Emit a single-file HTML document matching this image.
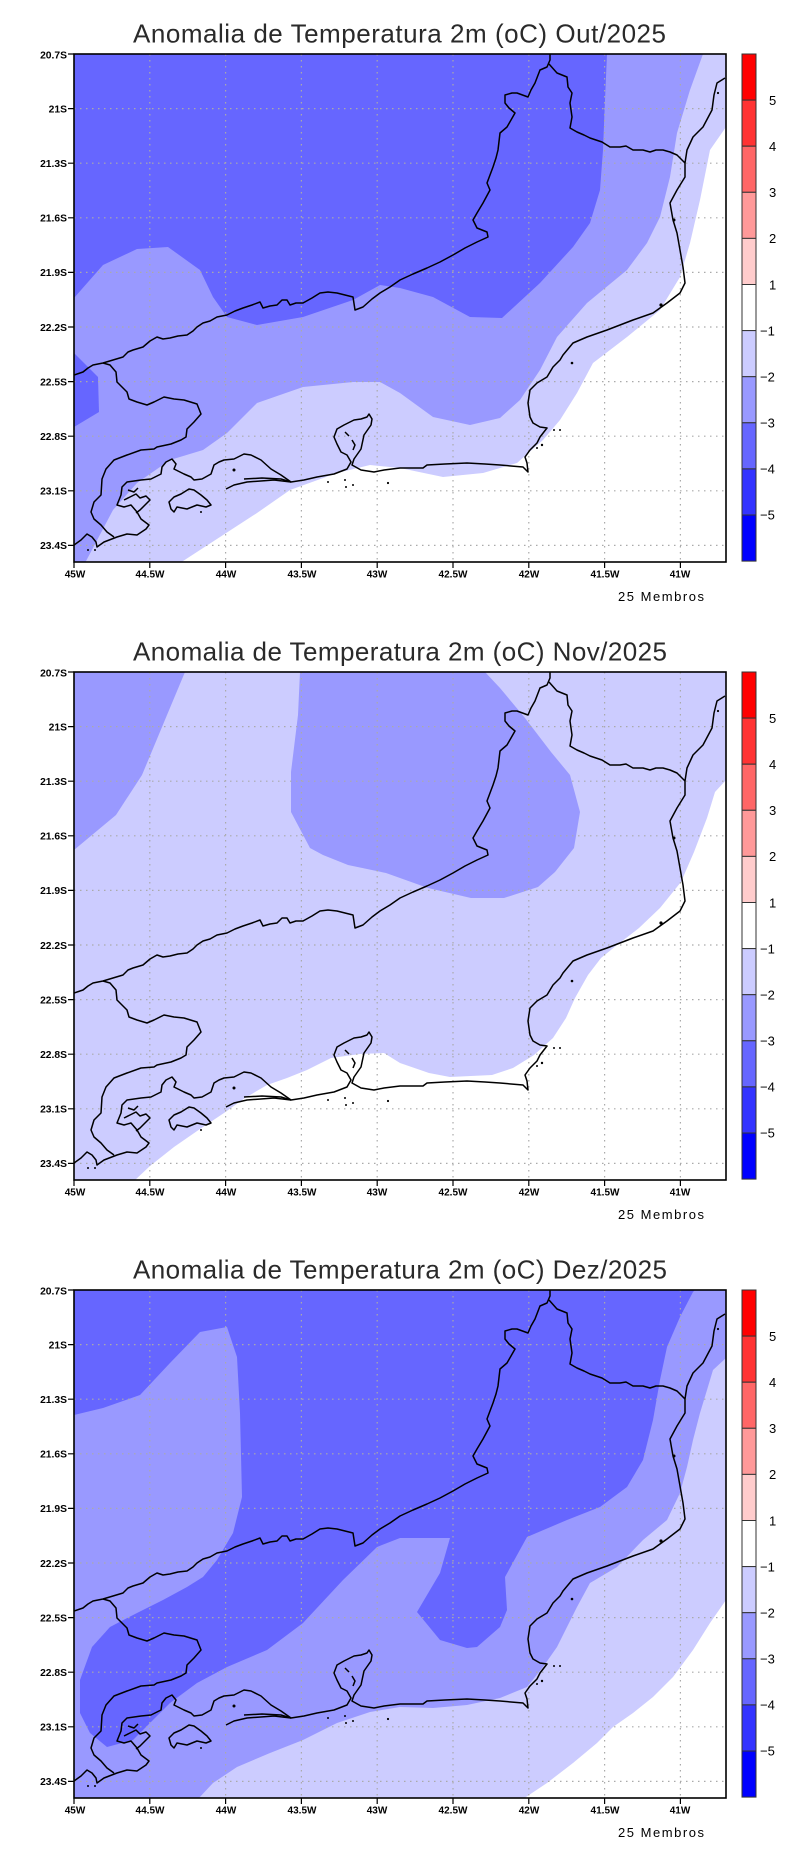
<!DOCTYPE html>
<html>
<head>
<meta charset="utf-8">
<style>
html,body{margin:0;padding:0;background:#fff;}
svg{display:block;}
</style>
</head>
<body>
<svg xmlns="http://www.w3.org/2000/svg" xmlns:xlink="http://www.w3.org/1999/xlink" width="800" height="1854" viewBox="0 0 800 1854">
<defs>
  <clipPath id="mapclip"><rect x="74" y="54" width="652" height="508"/></clipPath>
  <g id="grid" fill="none" stroke="#aaaaaa" stroke-width="1.2" stroke-dasharray="1.5 4.5">
    <path d="M149.8,54V562M225.6,54V562M301.4,54V562M377.2,54V562M453,54V562M528.8,54V562M604.6,54V562M680.4,54V562"/>
    <path d="M74,108.6H726M74,163.2H726M74,217.8H726M74,272.4H726M74,327H726M74,381.6H726M74,436.2H726M74,490.8H726M74,545.4H726"/>
  </g>
  <g id="coast" fill="none" stroke="#000" stroke-width="1.5" stroke-linejoin="round">
    <path d="M74,375 L83,372 L88,368 L93,365 L103,363 L113,360 L123,357 L128,352 L133,350 L143,347 L150,341 L157,337 L163,339 L170,338 L178,336 L187,335 L193,331 L197,327 L203,323 L210,321 L217,317 L227,315 L235,311 L243,308 L252,305 L260,302 L263,308 L270,306 L277,305 L282,300 L287,300 L290,305 L296,303 L303,303 L312,298 L320,293 L328,292 L337,293 L345,295 L353,297 L355,310 L363,307 L372,299 L380,293 L390,287 L400,280 L413,274 L427,268 L440,262 L453,255 L465,248 L477,242 L488,237 L487,232 L477,228 L473,220 L477,213 L483,203 L490,190 L487,183 L493,167 L496,158 L498,150 L500,133 L507,127 L515,113 L509,108 L505,103 L505,95 L512,93 L517,93 L528,97 L531,90 L535,83 L540,70 L547,67 L550,60 L550,54"/>
    <path d="M549,64 L557,73 L567,77 L568,87 L572,93 L570,103 L572,117 L570,128 L577,132 L584,135 L590,138 L602,142 L610,147 L620,147 L626,146 L633,150 L643,150 L650,152 L656,150 L663,150 L670,152 L677,155 L685,163"/>
    <path d="M103,363 L110,365 L116,372 L117,382 L127,392 L129,399 L137,402 L147,405 L154,402 L164,397 L174,399 L184,400 L197,404 L201,414 L194,422 L187,429 L186,437 L181,440 L171,444 L157,447 L154,449 L141,450 L127,455 L114,460 L106,469 L102,479 L101,495 L94,502 L91,512 L94,519 L101,525 L107,532 L114,537"/>
    <path d="M74,545 L81,540 L87,534 L92,537 L96,542 L97,547 L104,542 L117,537 L127,534 L137,535 L146,529 L149,525 L141,519 L137,512 L131,505 L124,507 L117,505 L121,495 L122,487 L127,482 L134,481 L141,480 L151,479 L161,474 L162,467 L166,462 L172,459 L176,464 L174,469 L184,474 L191,477 L194,480 L202,479 L211,474 L214,465 L219,462 L224,460 L234,459 L244,454 L251,455 L261,460 L271,469 L281,475 L291,482 L304,480 L317,477 L334,474 L347,469 L351,462 L347,455 L341,452 L337,444 L334,437 L337,429 L344,425 L354,420 L361,419 L367,417 L369,414 L372,419 L371,425 L364,435 L361,449 L354,459 L352,465 L361,470 L374,472 L384,470 L400,468 L423,468 L427,465 L445,464 L467,463 L485,464 L500,465 L523,467 L528,472 L527,463 L525,457 L530,450 L537,443 L540,437 L547,428 L540,427 L533,423 L530,417 L528,403 L530,390 L537,383 L547,377 L553,367 L560,360 L563,355 L573,343 L587,337 L607,330 L633,320 L653,313 L667,303 L680,293 L685,283 L683,267 L680,250 L677,233 L673,220 L670,203 L677,190 L685,177 L685,163 L687,150 L693,137 L703,127 L712,110 L714,95 L717,83 L725,78"/>
    <path d="M226,489 L234,485 L247,482 L274,480 L291,482"/>
    <path d="M244,479 L262,478 L281,479 L291,482"/>
    <path d="M169,502 L174,497 L181,494 L189,489 L194,490 L201,495 L207,500 L211,505 L206,507 L197,505 L187,509 L177,507 L174,512 L171,509 Z"/>
    <path d="M124,500 L130,497 L136,494 L140,498 L146,496 L150,500 L145,505 L140,510 L136,513"/>
    <path d="M128,490 L134,492 L138,488"/>
    <path d="M352,440 L355,445 L353,450"/>
    <path d="M345,432 L349,436"/>
  </g>
  <g id="dots" fill="#000">
    <circle cx="572" cy="363" r="1.3"/>
    <circle cx="554" cy="430" r="1"/>
    <circle cx="560" cy="430" r="1"/>
    <circle cx="542" cy="445" r="1.2"/>
    <circle cx="537" cy="448" r="1"/>
    <circle cx="718" cy="93" r="1.1"/>
    <circle cx="674" cy="220" r="1.5"/>
    <circle cx="345" cy="480" r="1"/>
    <circle cx="346" cy="487" r="1"/>
    <circle cx="353" cy="485" r="1"/>
    <circle cx="388" cy="483" r="1.1"/>
    <circle cx="328" cy="482" r="1"/>
    <circle cx="201" cy="512" r="1"/>
    <circle cx="234" cy="470" r="1.5"/>
    <circle cx="88" cy="550" r="1"/>
    <circle cx="95" cy="550" r="1"/>
    <circle cx="661" cy="305" r="1.6"/>
  </g>
  <g id="axes">
    <rect x="74" y="54" width="652" height="508" fill="none" stroke="#000" stroke-width="1.6"/>
    <g stroke="#000" stroke-width="1.2">
      <path d="M68,54H74M68,108.6H74M68,163.2H74M68,217.8H74M68,272.4H74M68,327H74M68,381.6H74M68,436.2H74M68,490.8H74M68,545.4H74"/>
      <path d="M74,562V568M149.8,562V568M225.6,562V568M301.4,562V568M377.2,562V568M453,562V568M528.8,562V568M604.6,562V568M680.4,562V568"/>
    </g>
    <g font-family="Liberation Sans, sans-serif" font-size="10.3" font-weight="bold" fill="#000" text-anchor="end">
      <text x="67" y="58.5">20.7S</text>
      <text x="67" y="112.5">21S</text>
      <text x="67" y="167">21.3S</text>
      <text x="67" y="221.5">21.6S</text>
      <text x="67" y="276">21.9S</text>
      <text x="67" y="331">22.2S</text>
      <text x="67" y="385.5">22.5S</text>
      <text x="67" y="440">22.8S</text>
      <text x="67" y="494.5">23.1S</text>
      <text x="67" y="549">23.4S</text>
    </g>
    <g font-family="Liberation Sans, sans-serif" font-size="10" font-weight="bold" fill="#000" text-anchor="middle">
      <text x="75" y="577.5">45W</text>
      <text x="150" y="577.5">44.5W</text>
      <text x="226" y="577.5">44W</text>
      <text x="302" y="577.5">43.5W</text>
      <text x="377" y="577.5">43W</text>
      <text x="453" y="577.5">42.5W</text>
      <text x="529" y="577.5">42W</text>
      <text x="605" y="577.5">41.5W</text>
      <text x="680" y="577.5">41W</text>
    </g>
    <text x="618" y="601" font-family="Liberation Sans, sans-serif" font-size="13" fill="#000" textLength="86" lengthAdjust="spacing">25 Membros</text>
    <g stroke="#333" stroke-width="1">
      <rect x="742" y="54" width="14" height="46.1" fill="#ff0000"/>
      <rect x="742" y="100.1" width="14" height="46.1" fill="#ff3333"/>
      <rect x="742" y="146.2" width="14" height="46.1" fill="#ff6666"/>
      <rect x="742" y="192.3" width="14" height="46.1" fill="#ff9999"/>
      <rect x="742" y="238.4" width="14" height="46.1" fill="#ffcccc"/>
      <rect x="742" y="284.5" width="14" height="46.1" fill="#ffffff"/>
      <rect x="742" y="330.6" width="14" height="46.1" fill="#ccccff"/>
      <rect x="742" y="376.7" width="14" height="46.1" fill="#9999ff"/>
      <rect x="742" y="422.8" width="14" height="46.1" fill="#6666ff"/>
      <rect x="742" y="468.9" width="14" height="46.1" fill="#3333ff"/>
      <rect x="742" y="515" width="14" height="46.1" fill="#0000ff"/>
    </g>
    <g font-family="Liberation Sans, sans-serif" font-size="13" fill="#000">
      <text x="769" y="105">5</text>
      <text x="769" y="151">4</text>
      <text x="769" y="197">3</text>
      <text x="769" y="243">2</text>
      <text x="769" y="289.5">1</text>
      <text x="760" y="335.5">−1</text>
      <text x="760" y="381.5">−2</text>
      <text x="760" y="427.5">−3</text>
      <text x="760" y="473.5">−4</text>
      <text x="760" y="519.5">−5</text>
    </g>
  </g>
</defs>

<rect x="0" y="0" width="800" height="1854" fill="#fff"/>

<g>
  <g clip-path="url(#mapclip)">
    <rect x="74" y="54" width="652" height="508" fill="#6666ff"/>
    <polygon fill="#9999ff" points="74,298 103,265 137,249 168,247 200,270 213,297 227,317 257,325 303,317 353,300 380,285 400,288 433,297 470,317 502,318 540,283 573,247 590,223 600,190 603,150 605,100 607,54 726,54 726,563 74,563"/>
    <polygon fill="#6666ff" points="74,353 86,365 98,377 99,412 74,427"/>
    <polygon fill="#ccccff" points="85,563 113,510 137,483 170,460 203,450 227,433 257,403 303,387 353,382 380,382 400,393 433,417 470,425 500,418 520,400 540,370 557,337 587,303 627,270 647,243 660,217 670,177 677,133 690,90 703,54 726,54 726,563"/>
    <polygon fill="#ffffff" points="726,127 710,150 700,200 690,243 680,277 660,310 627,337 593,363 577,393 560,420 543,440 517,463 483,473 443,477 400,468 370,465 337,473 290,490 257,513 220,537 180,563 726,563"/>
    <use xlink:href="#grid" href="#grid"/>
    <use xlink:href="#coast" href="#coast"/>
    <use xlink:href="#dots" href="#dots"/>
  </g>
  <use xlink:href="#axes" href="#axes"/>
  <text x="133" y="42.5" font-family="Liberation Sans, sans-serif" font-size="26" fill="#2a2a2a" textLength="533" lengthAdjust="spacing">Anomalia de Temperatura 2m (oC) Out/2025</text>
</g>

<g transform="translate(0,618)">
  <g clip-path="url(#mapclip)">
    <rect x="74" y="54" width="652" height="508" fill="#ccccff"/>
    <polygon fill="#9999ff" points="74,54 185,54 167,97 142,157 116,197 74,232"/>
    <polygon fill="#9999ff" points="300,54 298,97 291,154 291,194 310,230 323,237 348,247 386,255 428,270 471,280 504,280 538,269 555,254 574,230 580,194 570,157 551,134 525,100 500,70 485,54"/>
    <polygon fill="#ffffff" points="726,162 715,174 707,200 694,234 681,264 660,290 639,310 617,327 601,340 588,357 575,380 566,400 553,420 534,437 513,450 492,457 450,459 429,455 400,445 384,435 360,436 331,440 307,452 287,460 267,467 245,480 224,495 200,511 174,529 150,548 134,563 726,563"/>
    <use xlink:href="#grid" href="#grid"/>
    <use xlink:href="#coast" href="#coast"/>
    <use xlink:href="#dots" href="#dots"/>
  </g>
  <use xlink:href="#axes" href="#axes"/>
  <text x="133" y="42.5" font-family="Liberation Sans, sans-serif" font-size="26" fill="#2a2a2a" textLength="534" lengthAdjust="spacing">Anomalia de Temperatura 2m (oC) Nov/2025</text>
</g>

<g transform="translate(0,1236)">
  <g clip-path="url(#mapclip)">
    <rect x="74" y="54" width="652" height="508" fill="#6666ff"/>
    <polygon fill="#9999ff" points="695,54 726,54 726,563 74,563 74,179 103,172 140,159 170,127 200,96 227,91 237,121 240,177 242,261 233,297 217,324 203,341 187,351 163,364 137,377 110,391 92,411 80,444 80,477 90,497 107,511 133,504 170,467 197,447 227,431 267,414 303,387 343,344 377,311 400,302 450,302 440,337 417,376 440,404 467,412 477,411 500,391 507,374 505,341 527,301 567,284 600,271 627,251 643,224 653,184 660,144 667,111 680,81 693,56"/>
    <polygon fill="#ccccff" points="198,563 213,547 237,531 270,517 303,504 337,487 370,476 400,471 433,472 467,469 500,462 527,451 543,431 557,411 567,391 577,371 590,347 617,331 643,304 667,284 680,257 687,231 693,204 700,177 707,154 713,134 726,122 726,563"/>
    <polygon fill="#ffffff" points="726,364 710,387 693,414 673,441 653,461 633,477 613,491 597,507 573,527 547,547 523,563 726,563"/>
    <use xlink:href="#grid" href="#grid"/>
    <use xlink:href="#coast" href="#coast"/>
    <use xlink:href="#dots" href="#dots"/>
  </g>
  <use xlink:href="#axes" href="#axes"/>
  <text x="133" y="42.5" font-family="Liberation Sans, sans-serif" font-size="26" fill="#2a2a2a" textLength="534" lengthAdjust="spacing">Anomalia de Temperatura 2m (oC) Dez/2025</text>
</g>
</svg>
</body>
</html>
